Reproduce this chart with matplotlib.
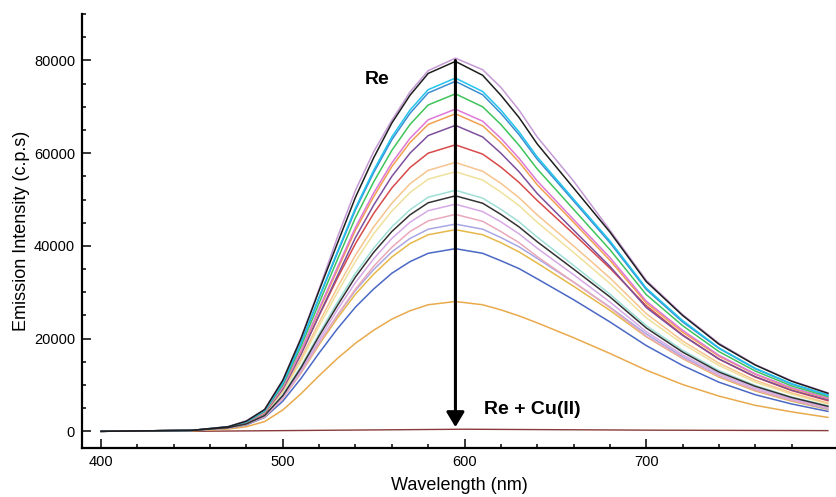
import matplotlib.pyplot as plt
from matplotlib.ticker import MultipleLocator, FixedLocator

plt.rcParams['font.family'] = ['Liberation Sans', 'DejaVu Sans']

# wavelength grid (nm) the spectra were read at
wavelength = [400, 450, 470, 480, 490, 500, 510, 520, 530, 540, 550, 560, 570, 580, 595,
              610, 620, 630, 640, 660, 680, 700, 720, 740, 760, 780, 800]

# emission spectra (c.p.s), from free Re down to the last Cu(II) addition
violet = [0, 200, 1000, 2300, 4700, 11100, 20200, 30700, 41800, 52000, 60300, 67100, 73200, 77800, 80500,
          78000, 74200, 69300, 63500, 54000, 43400, 32600, 25200, 19000, 14400, 10900, 8300]
black = [0, 200, 1000, 2200, 4700, 11000, 20000, 30400, 40500, 50500, 59000, 66500, 72500, 77200, 79800,
         76800, 72500, 67700, 62000, 52500, 43000, 32300, 25000, 18800, 14300, 10800, 8200]
cyan = [0, 200, 1000, 2100, 4500, 10500, 19100, 29000, 38700, 48200, 56300, 63500, 69300, 73700, 76200,
        73300, 69300, 64600, 59200, 50100, 41100, 30900, 23900, 18000, 13600, 10300, 7800]
steel = [0, 200, 900, 2100, 4500, 10400, 19000, 28800, 38400, 47800, 55800, 62900, 68600, 73000, 75500,
         72600, 68600, 64000, 58700, 49700, 40700, 30600, 23600, 17900, 13500, 10200, 7800]
green = [0, 200, 900, 2000, 4300, 10000, 18300, 27700, 37000, 46100, 53800, 60600, 66200, 70400, 72800,
         70000, 66200, 61700, 56600, 47900, 39200, 29500, 22800, 17200, 13000, 9800, 7500]
magenta = [0, 200, 900, 1900, 4100, 9600, 17400, 26500, 35300, 44000, 51400, 57900, 63200, 67200, 69500,
           66900, 63200, 58900, 54000, 45700, 37500, 28100, 21800, 16400, 12400, 9400, 7200]
orange1 = [0, 200, 900, 1900, 4000, 9500, 17200, 26100, 34800, 43400, 50600, 57100, 62300, 66200, 68500,
           65900, 62300, 58100, 53200, 45100, 36900, 27700, 21400, 16200, 12300, 9200, 7100]
purple = [0, 200, 800, 1800, 3900, 9100, 16600, 25100, 33500, 41800, 48800, 55000, 60000, 63800, 66000,
          63500, 60000, 56000, 51300, 43400, 35600, 26700, 20700, 15600, 11800, 8900, 6800]
red = [0, 200, 900, 2000, 4100, 9400, 16700, 25000, 33000, 40500, 47000, 52500, 56900, 60000, 61800,
       59800, 57000, 53700, 49800, 42600, 35200, 27100, 20800, 15600, 11700, 8800, 6600]
peach = [0, 200, 900, 1900, 3900, 8800, 15700, 23500, 31000, 38000, 44100, 49200, 53400, 56300, 58000,
         56100, 53500, 50400, 46700, 40000, 33100, 25400, 19500, 14700, 11000, 8300, 6100]
yellow = [0, 200, 800, 1800, 3800, 8500, 15100, 22700, 29900, 36700, 42600, 47500, 51500, 54400, 56000,
          54200, 51600, 48700, 45100, 38600, 31900, 24500, 18900, 14200, 10600, 8000, 5900]
aqua = [0, 200, 800, 1700, 3500, 7900, 14000, 21100, 27800, 34100, 39500, 44100, 47800, 50500, 52000,
        50300, 47900, 45200, 41900, 35800, 29600, 22800, 17500, 13100, 9900, 7400, 5500]
darkgray = [0, 200, 800, 1600, 3400, 7700, 13700, 20600, 27100, 33300, 38600, 43100, 46700, 49300, 50800,
            49200, 46800, 44100, 40900, 35000, 29000, 22300, 17100, 12800, 9700, 7300, 5400]
lilac = [0, 200, 700, 1600, 3300, 7400, 13200, 19800, 26200, 32100, 37200, 41600, 45100, 47600, 49000,
         47400, 45200, 42600, 39500, 33800, 27900, 21500, 16500, 12400, 9300, 7000, 5200]
pink = [0, 200, 700, 1500, 3100, 7100, 12600, 19000, 25000, 30700, 35600, 39700, 43100, 45400, 46800,
        45300, 43100, 40700, 37700, 32200, 26700, 20500, 15800, 11900, 8900, 6700, 5000]
lavender = [0, 200, 800, 1600, 3400, 7400, 13000, 19200, 25000, 30400, 34900, 38700, 41600, 43600, 44700,
            43600, 41800, 39800, 37300, 32200, 26800, 21000, 16100, 12000, 8900, 6700, 4800]
gold = [0, 200, 700, 1600, 3300, 7200, 12600, 18700, 24400, 29600, 33900, 37600, 40500, 42400, 43500,
        42400, 40700, 38700, 36300, 31300, 26100, 20400, 15700, 11700, 8700, 6500, 4700]
blue = [0, 200, 700, 1400, 3000, 6500, 11400, 16900, 22100, 26800, 30700, 34100, 36600, 38400, 39400,
        38400, 36800, 35100, 32900, 28400, 23600, 18500, 14200, 10600, 7900, 5900, 4300]
orange2 = [0, 100, 500, 1000, 2100, 4600, 8100, 12000, 15700, 19000, 21800, 24200, 26000, 27300, 28000,
           27300, 26200, 24900, 23400, 20200, 16800, 13200, 10100, 7600, 5600, 4200, 3000]

# Re + Cu(II): quenched, almost flat
cu_wavelength = [400, 450, 500, 550, 600, 650, 700, 750, 800]
cu_emission = [0, 0, 150, 300, 450, 350, 250, 200, 150]

spectra = [
    (orange2, '#e8aa4c'), (blue, '#4a68c4'), (gold, '#e6b84a'), (lavender, '#a9a6e4'),
    (pink, '#e9a9bb'), (lilac, '#d6a9e6'), (aqua, '#9fe0d6'), (yellow, '#efe19c'),
    (peach, '#f6c48e'), (red, '#d84a4a'), (purple, '#7d4f9c'), (orange1, '#f0a04e'),
    (magenta, '#df78d6'), (green, '#3fc45c'), (steel, '#3a8fd0'), (cyan, '#22c4ef'),
    (violet, '#c59ad6'), (darkgray, '#333333'), (black, '#1e1e1e'),
]

fig = plt.figure(figsize=(8.37, 4.97), dpi=100)
ax = fig.add_axes([0.098, 0.0986, 0.902, 0.873])

ax.plot(cu_wavelength, cu_emission, color='#8b3a3a', lw=1.0)
for values, color in spectra:
    ax.plot(wavelength, values, color=color, lw=1.1)

ax.annotate('', xy=(595, 900), xytext=(595, 80000),
            arrowprops=dict(arrowstyle='-|>,head_length=0.45,head_width=0.27',
                            lw=2.2, color='black', mutation_scale=20,
                            shrinkA=0, shrinkB=0))
ax.text(545, 76000, 'Re', fontsize=14, fontweight='bold', va='center', ha='left')
ax.text(611, 4600, 'Re + Cu(II)', fontsize=14, fontweight='bold', va='center', ha='left')

ax.set_xlim(389.5, 805)
ax.set_ylim(-3600, 90000)
ax.xaxis.set_major_locator(FixedLocator([400, 500, 600, 700]))
ax.xaxis.set_minor_locator(FixedLocator(range(420, 800, 20)))
ax.yaxis.set_major_locator(MultipleLocator(20000))
ax.yaxis.set_minor_locator(MultipleLocator(5000))
ax.tick_params(which='both', direction='in', width=1.1, labelsize=10.5)
ax.tick_params(which='major', length=6.5, pad=5)
ax.tick_params(which='minor', length=3)

for side in ['top', 'right']:
    ax.spines[side].set_visible(False)
for side in ['left', 'bottom']:
    ax.spines[side].set_linewidth(1.6)

ax.set_xlabel('Wavelength (nm)', fontsize=13, labelpad=6)
ax.set_ylabel('Emission Intensity (c.p.s)', fontsize=13, labelpad=3)

fig.savefig('out.png', dpi=100)
